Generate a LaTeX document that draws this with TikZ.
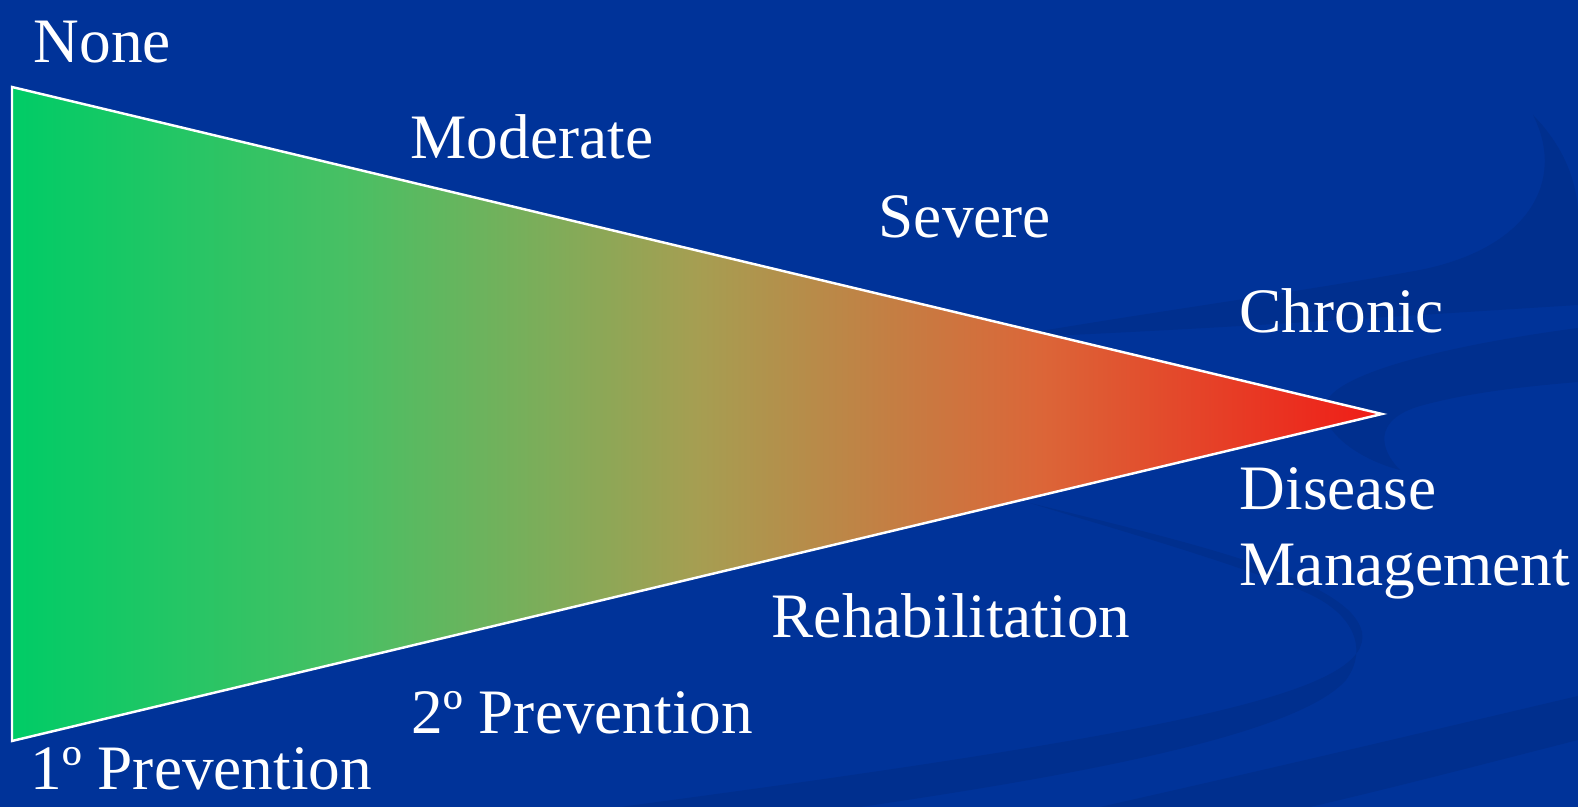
\documentclass[tikz,border=0pt]{standalone}
\usepackage{fontspec}
\setmainfont{Liberation Serif}
\usepackage{tikz}

\definecolor{slide}{RGB}{0,51,153}
\definecolor{ribbonblue}{RGB}{0,47,142}

% green -> olive -> orange -> red, stops kept inside 25bp..75bp
\pgfdeclarehorizontalshading{severity}{100bp}{%
    rgb(0bp)=(0,0.8,0.4);
    rgb(25bp)=(0,0.8,0.4);
    rgb(37.5bp)=(0.29,0.75,0.39);
    rgb(50bp)=(0.65,0.62,0.32);
    rgb(62.5bp)=(0.86,0.4,0.22);
    rgb(75bp)=(0.94,0.11,0.09);
    rgb(100bp)=(0.94,0.11,0.09)}

\begin{document}
\begin{tikzpicture}[
    x=0.01cm, y=-0.01cm,
    stage/.style={text=white, anchor=base west, inner sep=0pt,
        font=\fontsize{18}{21}\selectfont},
    ribbon/.style={fill=ribbonblue},
    edge/.style={draw=white, line width=0.7pt, line join=miter}
]

% slide background
\fill[slide] (0,0) rectangle (1578,807);
\useasboundingbox (0,0) rectangle (1578,807);

% faint swooshes
\fill[ribbon] (1000,338) .. controls (1150,312) and (1300,292) .. (1420,270)
    .. controls (1530,248) and (1566,180) .. (1533,115)
    .. controls (1582,165) and (1578,215) .. (1578,225)
    -- (1578,305) .. controls (1400,316) and (1200,330) .. (1000,338) -- cycle;
\fill[ribbon] (1578,328) .. controls (1450,345) and (1340,372) .. (1326,402)
    .. controls (1316,430) and (1360,460) .. (1400,470)
    .. controls (1380,450) and (1372,420) .. (1420,406)
    .. controls (1470,392) and (1530,386) .. (1578,382) -- cycle;
\fill[ribbon] (1030,503) .. controls (1200,545) and (1350,580) .. (1362,632)
    .. controls (1372,690) and (1200,730) .. (620,807)
    -- (860,807) .. controls (1100,772) and (1300,732) .. (1346,680)
    .. controls (1368,650) and (1356,612) .. (1300,590)
    .. controls (1200,552) and (1100,525) .. (1030,503) -- cycle;
\fill[ribbon] (1100,807) .. controls (1300,762) and (1450,726) .. (1578,696)
    -- (1578,740) .. controls (1480,765) and (1400,786) .. (1310,807) -- cycle;

% the wedge
\coordinate (tl) at (12,87);
\coordinate (bl) at (12,741);
\coordinate (tip) at (1382,414);
\shade[shading=severity] (tl) -- (tip) -- (bl) -- cycle;
\path[edge] (tl) -- (tip) -- (bl) -- cycle;

% severity along the top
\node[stage] (none) at (33,63) {None};
\node[stage] (moderate) at (410,159) {Moderate};
\node[stage] (severe) at (878,238) {Severe};
\node[stage] (chronic) at (1239,333) {Chronic};

% care along the bottom
\node[stage] (disease) at (1239,510) {Disease};
\node[stage] (management) at (1239,586) {Management};
\node[stage] (rehab) at (771,638) {Rehabilitation};
\node[stage] (secondary) at (411,734) {2º Prevention};
\node[stage] (primary) at (30,790) {1º Prevention};

\end{tikzpicture}
\end{document}
